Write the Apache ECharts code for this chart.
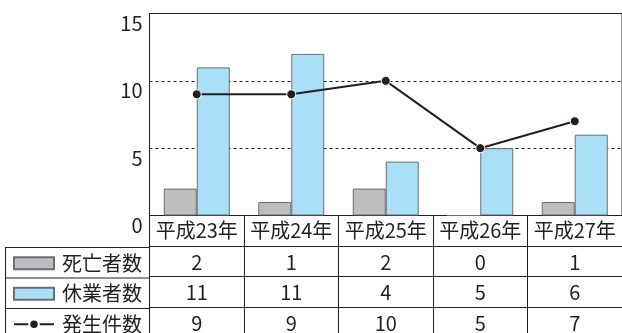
<!DOCTYPE html>
<html>
<head>
<meta charset="utf-8">
<script src="https://cdn.jsdelivr.net/npm/echarts@6/dist/echarts.min.js"></script>
<style>
  html, body { margin: 0; padding: 0; background: #fff; }
  #chart { width: 622px; height: 333px; }
</style>
</head>
<body>
<div id="chart"></div>
<script>
const categories = ['平成23年', '平成24年', '平成25年', '平成26年', '平成27年']
const shibou = [2, 1, 2, 0, 1]          // 死亡者数
const kyugyo = [11, 12, 4, 5, 6]        // 休業者数 (bar heights as drawn)
const kyugyoTable = [11, 11, 4, 5, 6]   // 休業者数 (as printed in the table)
const hassei = [9, 9, 10, 5, 7]         // 発生件数
const yTicks = [0, 5, 10, 15]

const ink = '#231f20'
const font = '"Noto Sans CJK JP", sans-serif'

const myChart = echarts.init(document.getElementById('chart'))

// table rows under the plot, each one drawn as an extra x axis
const rows = [shibou, kyugyoTable, hassei]
const rowAxes = rows.map(function (row, i) {
  return {
    type: 'category',
    data: categories,
    gridIndex: 0,
    position: 'bottom',
    offset: 30.5 * (i + 1),
    axisLine: { show: true, lineStyle: { color: ink, width: 1 } },
    axisTick: { show: false },
    axisLabel: {
      margin: 16,
      verticalAlign: 'middle',
      fontSize: 20,
      fontFamily: font,
      color: ink,
      formatter: function (v, idx) { return String(row[idx]) }
    }
  }
})

const option = {
  animation: false,
  textStyle: { fontFamily: font },
  grid: {
    left: 149.5, top: 13.5, right: -2.5, bottom: 116,
    show: true, borderColor: ink, borderWidth: 1
  },
  legend: {
    orient: 'vertical',
    left: 13,
    top: 248,
    height: 200,
    padding: 0,
    itemWidth: 40,
    itemHeight: 12,
    itemGap: 0,
    data: [
      { name: '死亡者数', icon: 'rect' },
      { name: '休業者数', icon: 'rect' },
      '発生件数'
    ],
    textStyle: { fontSize: 20, lineHeight: 30.5, color: ink, fontFamily: font, padding: [0, 0, 0, 3] }
  },
  xAxis: [{
    type: 'category',
    data: categories,
    position: 'bottom',
    axisLine: { show: true, lineStyle: { color: ink, width: 1 } },
    axisTick: { show: true, length: 125, interval: 0, lineStyle: { color: ink, width: 1 } },
    axisLabel: { margin: 15, verticalAlign: 'middle', fontSize: 20, fontFamily: font, color: ink, interval: 0 }
  }].concat(rowAxes),
  yAxis: {
    type: 'value',
    min: yTicks[0],
    max: yTicks[yTicks.length - 1],
    interval: 5,
    axisLine: { show: true, lineStyle: { color: ink } },
    axisTick: { show: false },
    axisLabel: { fontSize: 20, color: ink, fontFamily: font, margin: 7, verticalAlign: 'top' },
    splitLine: { show: true, lineStyle: { color: ink, type: [3, 3], width: 1 } }
  },
  graphic: [
    { type: 'line', shape: { x1: 5, y1: 247.5, x2: 150, y2: 247.5 }, style: { stroke: ink, lineWidth: 1 } },
    { type: 'line', shape: { x1: 5, y1: 278, x2: 150, y2: 278 }, style: { stroke: ink, lineWidth: 1 } },
    { type: 'line', shape: { x1: 5, y1: 308.5, x2: 150, y2: 308.5 }, style: { stroke: ink, lineWidth: 1 } },
    { type: 'line', shape: { x1: 5.5, y1: 247.5, x2: 5.5, y2: 340 }, style: { stroke: ink, lineWidth: 1 } }
  ],
  series: [
    {
      name: '死亡者数',
      type: 'bar',
      data: shibou,
      barWidth: 33,
      barGap: '0%',
      itemStyle: { color: '#bcbec0', borderColor: '#6d6e71', borderWidth: 1 }
    },
    {
      name: '休業者数',
      type: 'bar',
      data: kyugyo,
      barWidth: 33,
      itemStyle: { color: '#a9dff7', borderColor: '#6d6e71', borderWidth: 1 }
    },
    {
      name: '発生件数',
      type: 'line',
      data: hassei,
      z: 5,
      symbol: 'circle',
      symbolSize: 9,
      lineStyle: { color: ink, width: 2 },
      itemStyle: { color: ink, borderColor: '#fff', borderWidth: 1 }
    }
  ]
}
myChart.setOption(option)
</script>
</body>
</html>
